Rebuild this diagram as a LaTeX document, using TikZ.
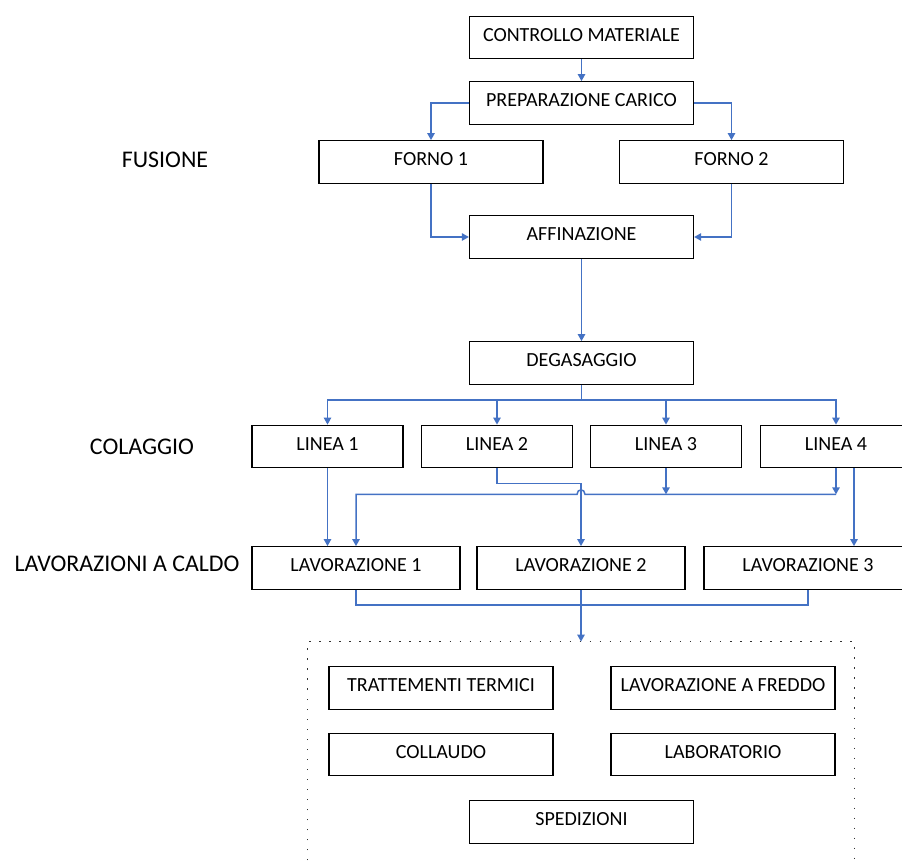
\documentclass[tikz,border=0pt]{standalone}
\usepackage{fontspec}
\setmainfont{Carlito}
\usetikzlibrary{arrows.meta, positioning, calc, fit}

\definecolor{flowblue}{RGB}{68,114,196}

\begin{document}
\begin{tikzpicture}[
    x=0.02cm, y=-0.02cm,
    box/.style={rectangle, draw, align=center, minimum height=0.85cm, minimum width=4.48cm, line width=0.7pt, font=\fontsize{11.4}{13}\selectfont, inner sep=1pt, text depth=3pt},
    linebox/.style={box, minimum width=3.02cm},
    lavbox/.style={box, minimum width=4.16cm},
    phase/.style={font=\fontsize{13.6}{16}\selectfont, inner sep=0pt},
    wire/.style={draw=flowblue, line width=0.85pt},
    flow/.style={wire, -{Triangle[length=4pt, width=4.2pt]}},
    frame/.style={draw=black!80, line width=0.9pt, dash pattern=on 0.9pt off 4.8pt}
]
\useasboundingbox (0,0) rectangle (902,864);

% Phase labels on the left
\node[phase] (fusione)  at (165,160) {FUSIONE};
\node[phase] (colaggio) at (142,447) {COLAGGIO};
\node[phase] (caldo)    at (127,564) {LAVORAZIONI A CALDO};

% Melting
\node[box] (controllo) at (581.5,37.5) {CONTROLLO MATERIALE};
\node[box] (prep)      at (581.5,103)  {PREPARAZIONE CARICO};
\node[box] (forno1)    at (431,162)    {FORNO 1};
\node[box] (forno2)    at (731.5,162)  {FORNO 2};
\node[box] (affin)     at (581.5,237)  {AFFINAZIONE};
\node[box] (degas)     at (581.5,363)  {DEGASAGGIO};

% Casting lines
\node[linebox] (linea1) at (327.5,446.5) {LINEA 1};
\node[linebox] (linea2) at (497,446.5)   {LINEA 2};
\node[linebox] (linea3) at (666,446.5)   {LINEA 3};
\node[linebox] (linea4) at (836,446.5)   {LINEA 4};

% Hot working
\node[lavbox] (lav1) at (356,568)   {LAVORAZIONE 1};
\node[lavbox] (lav2) at (581,568)   {LAVORAZIONE 2};
\node[lavbox] (lav3) at (808,568)   {LAVORAZIONE 3};

% Final operations
\node[box] (termici)  at (441,688)   {TRATTEMENTI TERMICI};
\node[box] (freddo)   at (723,688)   {LAVORAZIONE A FREDDO};
\node[box] (collaudo) at (441,754.5) {COLLAUDO};
\node[box] (lab)      at (723,754.5) {LABORATORIO};
\node[box] (sped)     at (581.5,822) {SPEDIZIONI};

% Dotted frame round the final operations (open at the bottom)
\node[fit={(308,642) (854,880)}, inner sep=0pt] (post) {};
\draw[frame] (post.south west) |- (post.north east) -- (post.south east);

% Top chain
\draw[flow] (controllo) -- (prep);
\draw[flow] (prep.west) -| (forno1.north);
\draw[flow] (prep.east) -| (forno2.north);
\draw[flow] (forno1.south) |- (affin.west);
\draw[flow] (forno2.south) |- (affin.east);
\draw[flow] (affin) -- (degas);

% Degassing to the four lines
\coordinate (bus) at ($(degas.south)+(0,15)$);
\draw[wire] (degas.south) -- (bus);
\foreach \n in {linea1,linea2,linea3,linea4}
    \draw[flow] (bus) -| (\n.north);

% Lines to hot working
\coordinate (join) at ($(linea4.south)+(0,26)$);
\draw[flow] (linea1.south) -- (linea1.south |- lav1.north);
\draw[flow] (linea2.south) -- ++(0,15) -| (lav2.north);
\draw[flow] (linea3.south) -- (linea3.south |- join);
\draw[flow] (linea4.south) -- (join);
\draw[flow] (join) -- ($(join -| lav2.north)+(4,0)$)
    .. controls +(0,-6) and +(0,-6) .. ($(join -| lav2.north)+(-4,0)$) -| (lav1.north);
\draw[flow] ($(linea4.south)+(18,0)$) coordinate (l4b) -- (l4b |- lav3.north);

% Hot working to the final operations
\draw[wire] (lav1.south) -- ++(0,15) -| (lav3.south);
\draw[flow] (lav2.south) -- (post.north);

\end{tikzpicture}
\end{document}
